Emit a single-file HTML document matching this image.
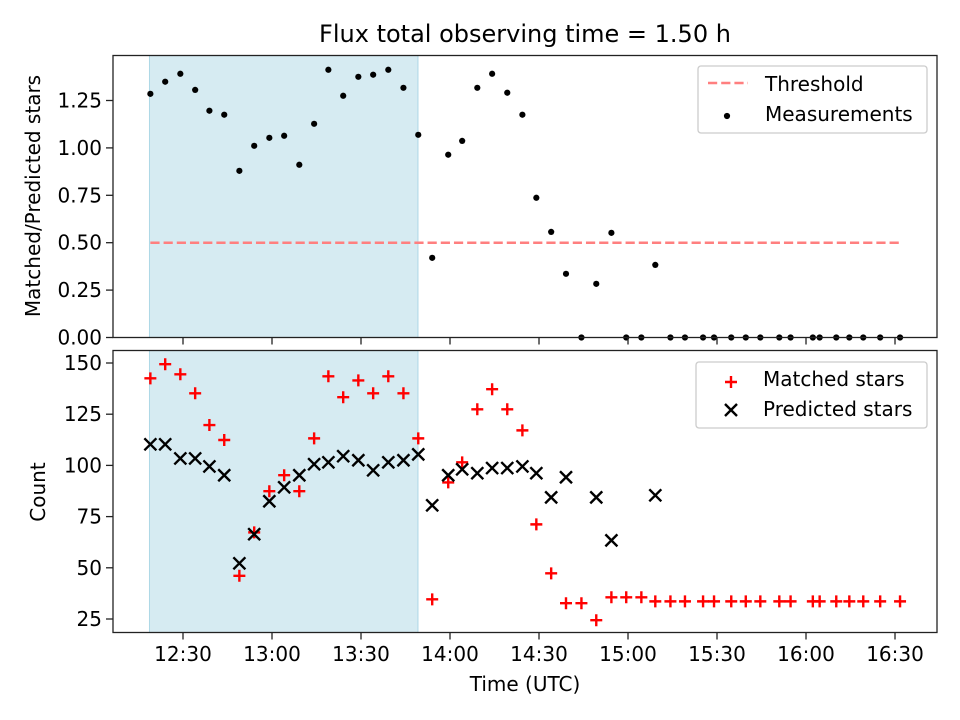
<!DOCTYPE html>
<html><head><meta charset="utf-8"><style>
body{margin:0;background:#fff}
svg{display:block;font-family:"DejaVu Sans","Liberation Sans",sans-serif}
</style></head><body>
<svg id="c" width="960" height="720"></svg>
<script>
const times=[19.0,24.0,29.1,34.1,38.9,43.9,49.0,54.0,59.1,64.1,69.2,74.2,79.0,84.0,89.1,94.1,99.2,104.3,109.3,114.0,119.4,124.1,129.2,134.2,139.3,144.4,149.1,154.1,159.1,164.3,169.3,174.4,179.4,184.5,189.2,194.3,199.2,205.3,209.0,214.8,219.7,224.6,231.0,234.8,242.3,244.6,250.2,254.6,259.3,265.0,271.7];
const ratio=[1.285,1.349,1.391,1.306,1.196,1.175,0.879,1.011,1.053,1.064,0.911,1.127,1.412,1.275,1.375,1.386,1.412,1.317,1.069,0.420,0.964,1.037,1.317,1.391,1.291,1.175,0.737,0.557,0.336,0,0.283,0.552,0,0,0.383,0,0,0,0,0,0,0,0,0,0,0,0,0,0,0,0];
const matched=[142.5,149.4,144.5,135.2,119.7,112.4,46.1,67.3,87.4,95.2,87.4,113.2,143.5,133.3,141.5,135.2,143.5,135.2,113.2,34.6,91.7,101.5,127.4,137.2,127.4,117.1,71.2,47.3,32.7,32.7,24.4,35.6,35.6,35.6,33.6,33.6,33.6,33.6,33.6,33.6,33.6,33.6,33.6,33.6,33.6,33.6,33.6,33.6,33.6,33.6,33.6];
const predicted=[110.3,110.3,103.4,103.4,99.5,95.2,52.2,66.4,82.5,89.3,95.2,100.6,101.5,104.5,102.5,97.6,101.5,102.5,105.4,80.5,95.2,98.1,96.2,98.7,98.7,99.5,96.2,84.4,94.2,null,84.4,63.4,null,null,85.4];
const threshold=0.5;
const shadeStart=18.7, shadeEnd=109.2;
const xTicks=[30,60,90,120,150,180,210,240,270];
const xTickLabels=["12:30","13:00","13:30","14:00","14:30","15:00","15:30","16:00","16:30"];
const yTopTicks=[0,0.25,0.5,0.75,1.0,1.25];
const yTopLabels=["0.00","0.25","0.50","0.75","1.00","1.25"];
const yBotTicks=[25,50,75,100,125,150];

const X=t=>183+(t-30)*2.9667;
const YT=v=>337.5-v*189.6;
const YB=v=>619-(v-25)*2.048;
const svg=document.getElementById('c');
const NS='http://www.w3.org/2000/svg';
function mk(tag,attrs,parent){const e=document.createElementNS(NS,tag);for(const k in attrs)e.setAttribute(k,attrs[k]);(parent||svg).appendChild(e);return e;}
function txt(s,attrs){const e=mk('text',attrs);e.textContent=s;return e;}

const L=113,R=937;
const panels=[{t:55.5,b:337.5},{t:350.5,b:632.5}];
panels.forEach((p,i)=>{
  const r=mk('rect',{x:X(shadeStart),y:p.t,width:X(shadeEnd)-X(shadeStart),height:p.b-p.t,fill:'#add8e6','fill-opacity':0.5,stroke:'#add8e6','stroke-width':1});
  
  
});
const th=mk('line',{x1:X(times[0]),x2:X(times[times.length-1]),y1:YT(threshold),y2:YT(threshold),stroke:'#ff7f7f','stroke-width':2.5,'stroke-dasharray':'9.2,4'});


times.forEach((t,i)=>{
  const c=mk('circle',{cx:X(t),cy:YT(ratio[i]),r:3.1,fill:'#000'});
  
  
});
times.forEach((t,i)=>{
  const x=X(t),y=YB(matched[i]);
  const p=mk('path',{d:`M${x-6},${y}H${x+6}M${x},${y-6}V${y+6}`,stroke:'#f00','stroke-width':2.4});
  
  
});
predicted.forEach((v,i)=>{
  if(v===null)return;
  const x=X(times[i]),y=YB(v),s=6;
  const p=mk('path',{d:`M${x-s},${y-s}L${x+s},${y+s}M${x-s},${y+s}L${x+s},${y-s}`,stroke:'#000','stroke-width':2.4});
  
  
});
panels.forEach((p,i)=>{
  const f=mk('rect',{x:L,y:p.t,width:R-L,height:p.b-p.t,fill:'none',stroke:'#222','stroke-width':1.3});
  
  
  xTicks.forEach((t,k)=>{
    mk('line',{x1:X(t),x2:X(t),y1:p.b,y2:p.b+7,stroke:'#222','stroke-width':1.3});
    if(i===1){const l=txt(xTickLabels[k],{x:X(t),y:661,'font-size':20,'text-anchor':'middle'});
      
      }
  });
});
yTopTicks.forEach((v,k)=>{
  mk('line',{x1:L-7,x2:L,y1:YT(v),y2:YT(v),stroke:'#222','stroke-width':1.3});
  const l=txt(yTopLabels[k],{x:L-11,y:YT(v)+7,'font-size':20,'text-anchor':'end'});
  
  
});
yBotTicks.forEach(v=>{
  mk('line',{x1:L-7,x2:L,y1:YB(v),y2:YB(v),stroke:'#222','stroke-width':1.3});
  const l=txt(String(v),{x:L-11,y:YB(v)+7,'font-size':20,'text-anchor':'end'});
  
  
});
</script>
<svg width="960" height="720" style="position:absolute;left:0;top:0;font-family:'DejaVu Sans','Liberation Sans',sans-serif">
<text x="525" y="42" font-size="24" text-anchor="middle">Flux total observing time = 1.50 h</text>
<text transform="translate(40,196) rotate(-90)" font-size="20" text-anchor="middle">Matched/Predicted stars</text>
<text transform="translate(45,492) rotate(-90)" font-size="20" text-anchor="middle">Count</text>
<text x="525" y="691" font-size="20" text-anchor="middle">Time (UTC)</text>
<g>
<rect x="698" y="66" width="229" height="67" rx="3" fill="#fff" fill-opacity="0.8" stroke="#ccc" stroke-width="1.3"/>
<line x1="708" x2="748" y1="83" y2="83" stroke="#ff7f7f" stroke-width="2.5" stroke-dasharray="9.2,4"/>
<text x="765" y="91" font-size="20">Threshold</text>
<circle cx="727" cy="116" r="3.1" fill="#000"/>
<text x="765" y="121" font-size="20">Measurements</text>
</g>
<g>
<rect x="696" y="362" width="231" height="66" rx="3" fill="#fff" fill-opacity="0.8" stroke="#ccc" stroke-width="1.3"/>
<path d="M725,382H737M731,376V388" stroke="#f00" stroke-width="2.4"/>
<text x="763" y="386" font-size="20">Matched stars</text>
<path d="M725,404L737,416M725,416L737,404" stroke="#000" stroke-width="2.4"/>
<text x="763" y="416" font-size="20">Predicted stars</text>
</g>
</svg>
</body></html>
